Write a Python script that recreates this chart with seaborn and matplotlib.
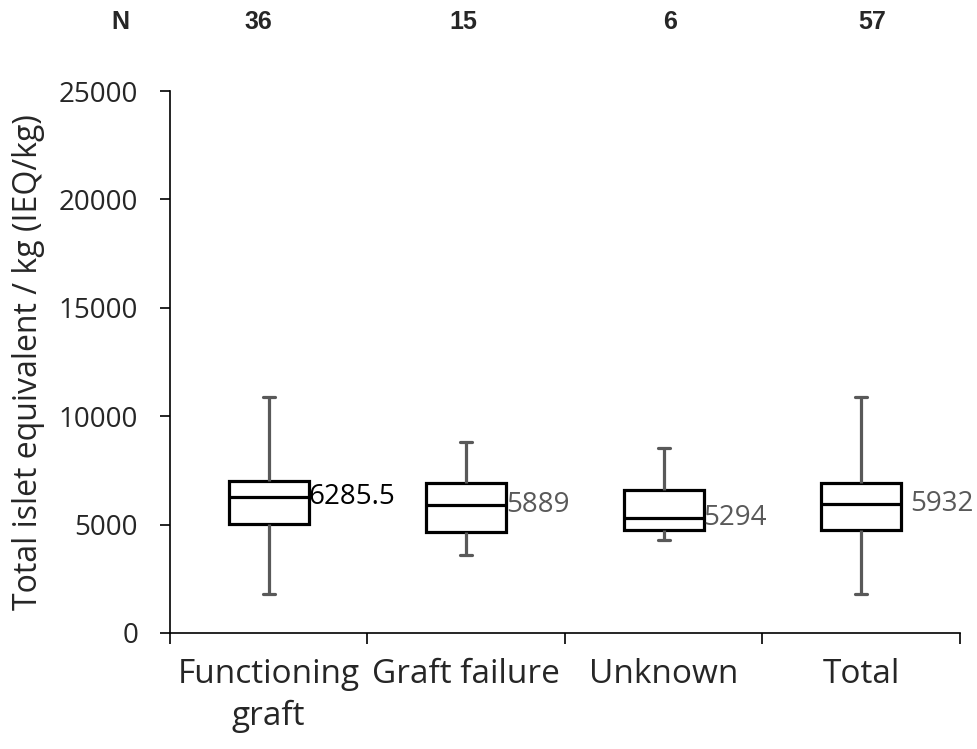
import pandas as pd
import numpy as np
import matplotlib.pyplot as plt
import seaborn as sns
from matplotlib.ticker import FixedLocator

# five-number summaries: min, q1, median, q3, max
categories = ['Functioning\ngraft', 'Graft failure', 'Unknown', 'Total']
n_counts = ['36', '15', '6', '57']
mins = [1800, 3600, 4290, 1800]
q1s = [5030, 4680, 4750, 4750]
medians = [6285.5, 5889, 5294, 5932]
q3s = [7025, 6930, 6600, 6930]
maxs = [10890, 8820, 8520, 10880]
median_labels = ['6285.5', '5889', '5294', '5932']
label_colors = ['black', '#595959', '#595959', '#595959']

rows = []
for cat, a, b, c, d, e in zip(categories, mins, q1s, medians, q3s, maxs):
    for v in (a, b, c, d, e):
        rows.append({'group': cat, 'ieq': v})
df = pd.DataFrame(rows)

sns.set_style('white')
plt.rcParams['font.family'] = ['Open Sans', 'DejaVu Sans']

fig = plt.figure(figsize=(9.78, 7.49), dpi=100)
ax = fig.add_axes([0.1738, 0.1549, 0.8078, 0.7236])

sns.boxplot(data=df, x='group', y='ieq', order=categories, ax=ax,
            whis=(0, 100), width=0.405, color='white', linecolor='black',
            linewidth=2.3, showfliers=False, capwidths=0.06,
            whiskerprops=dict(color='#595959'),
            capprops=dict(color='#595959'),
            medianprops=dict(color='black'))

# median labels to the right of each box
offsets = [0.2, 0.2, 0.2, 0.25]
for i, (m, lab, col) in enumerate(zip(medians, median_labels, label_colors)):
    ax.text(i + offsets[i], m, lab, ha='left', va='center', fontsize=20, color=col)

ax.set_xlim(-0.5, 3.5)
ax.set_ylim(0, 25000)
ax.set_yticks(np.arange(0, 25001, 5000))
ax.set_xlabel('')
ax.set_ylabel('Total islet equivalent / kg (IEQ/kg)', fontsize=23, labelpad=10)

for s in ['top', 'right']:
    ax.spines[s].set_visible(False)
for s in ['left', 'bottom']:
    ax.spines[s].set_color('black')
    ax.spines[s].set_linewidth(1.2)

ax.tick_params(axis='y', which='major', left=True, length=7, width=1.2,
               color='black', labelsize=20, pad=16)
ax.tick_params(axis='x', which='major', bottom=True, length=0, labelsize=24, pad=18)
ax.xaxis.set_minor_locator(FixedLocator([-0.5, 0.5, 1.5, 2.5, 3.5]))
ax.tick_params(axis='x', which='minor', bottom=True, length=8, width=1.2,
               color='black', direction='out')
for t in ax.get_xticklabels():
    t.set_linespacing(1.35)

# N row along the top
n_x = [258, 463, 670, 872]
fig.text(120 / 978, 1 - 22 / 749, 'N', ha='center', va='center',
         fontsize=18, fontweight='bold', family=['Liberation Sans', 'DejaVu Sans'])
for x, n in zip(n_x, n_counts):
    fig.text(x / 978, 1 - 22 / 749, n, ha='center', va='center',
             fontsize=18, fontweight='bold', family=['Liberation Sans', 'DejaVu Sans'])

fig.savefig('out.png', dpi=100)
